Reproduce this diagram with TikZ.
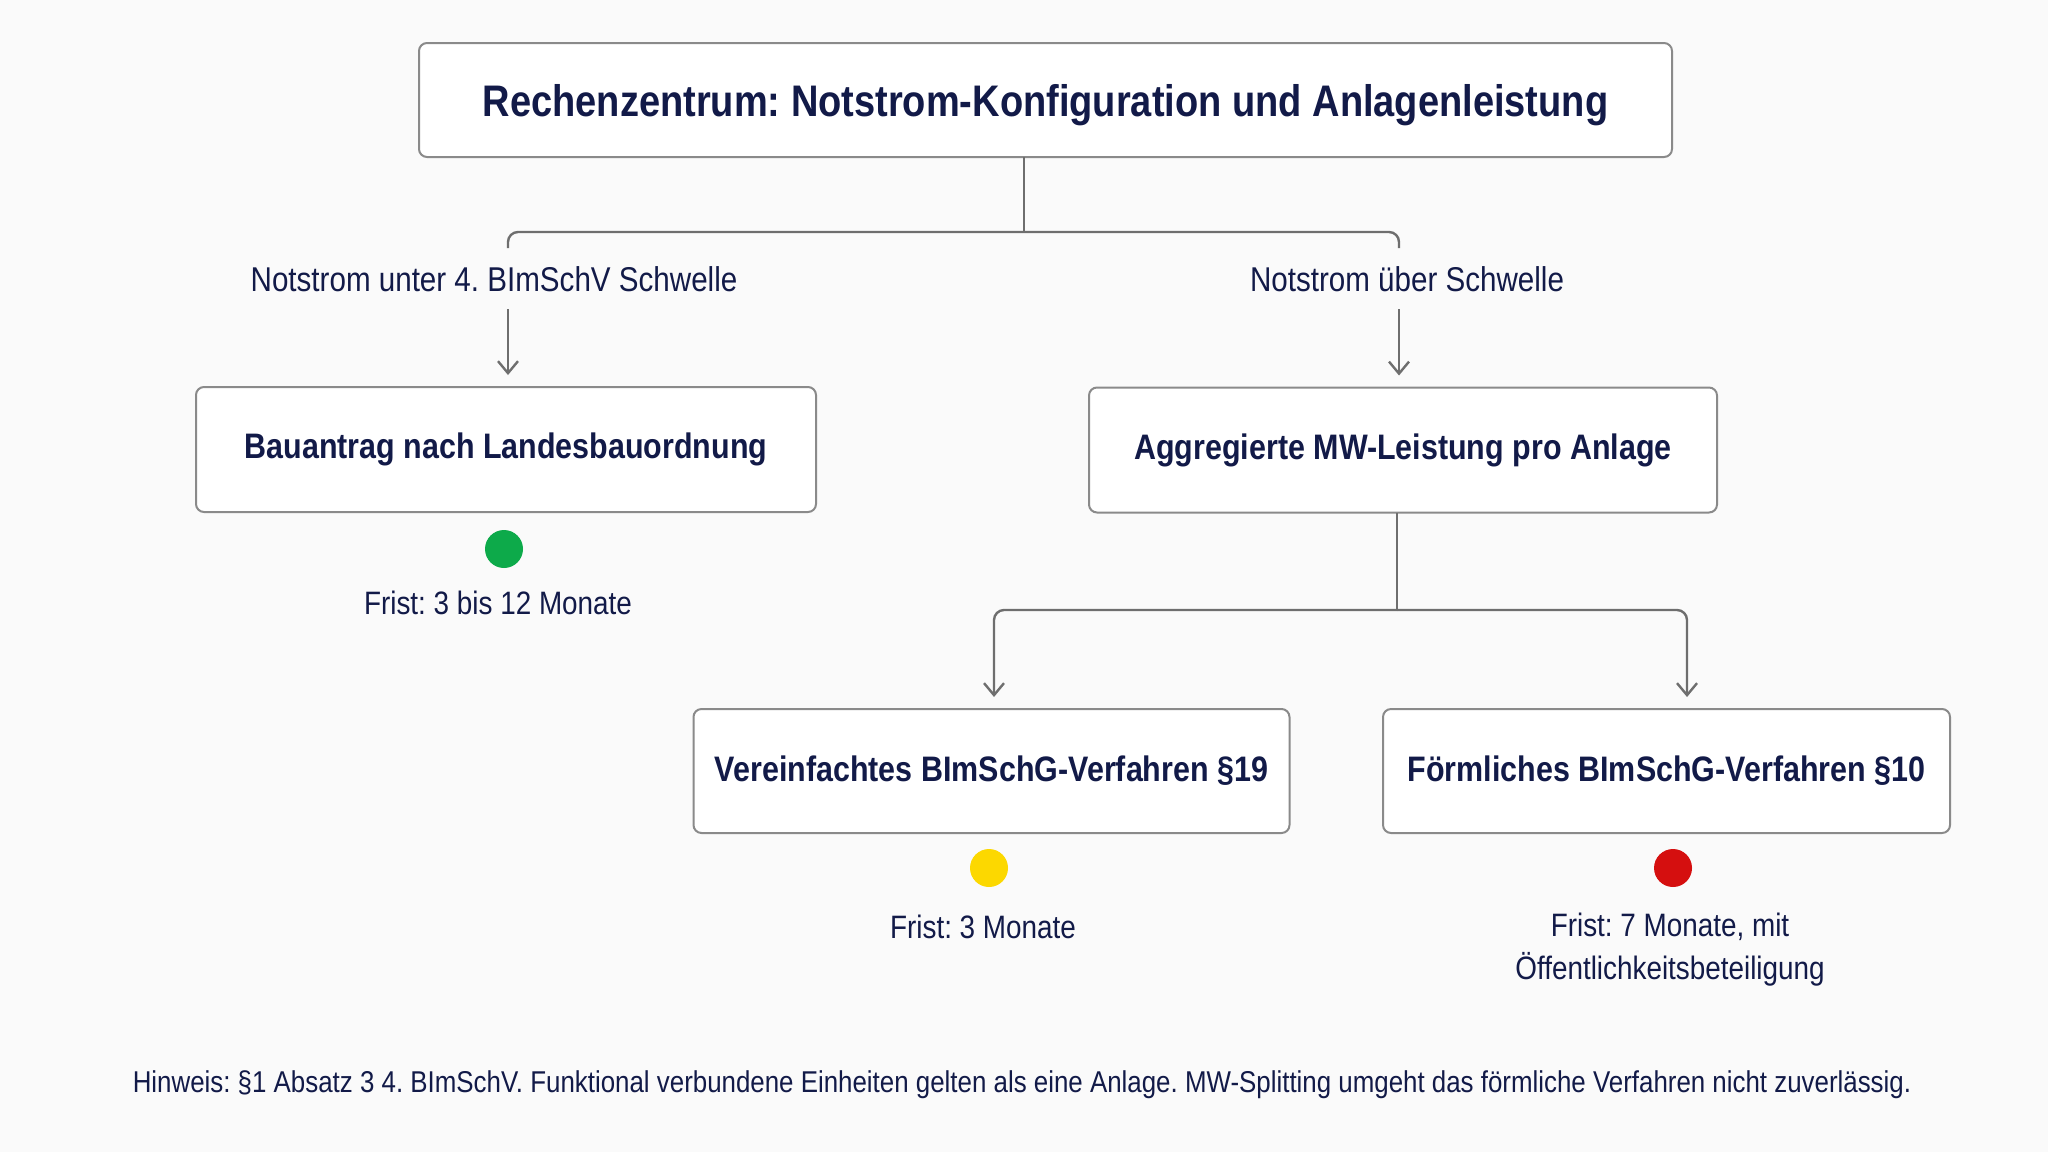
\documentclass[tikz,border=0pt]{standalone}
\usepackage{fontspec}
\setmainfont{Liberation Sans}[FakeStretch=0.86]
\usetikzlibrary{arrows.meta}
\frenchspacing
\definecolor{bgc}{HTML}{FAFAFA}
\definecolor{ink}{HTML}{121A48}
\definecolor{frame}{HTML}{8A8A8A}
\definecolor{wire}{HTML}{6E6E6E}
\definecolor{dotgreen}{HTML}{0DAA4A}
\definecolor{dotyellow}{HTML}{FCD800}
\definecolor{dotred}{HTML}{D50F0F}
\tikzset{
  box/.style={draw=frame, line width=1pt, rounded corners=4pt, fill=white, inner sep=0pt, text=ink, font=\bfseries\fontsize{17.7}{22}\selectfont},
  titlebox/.style={box, text depth=0pt, font=\bfseries\fontsize{22.1}{26}\selectfont},
  branchlabel/.style={text=ink, inner sep=0pt, font=\fontsize{17.2}{20}\selectfont},
  fristlabel/.style={text=ink, inner sep=0pt, align=center, font=\fontsize{16.2}{21.5}\selectfont},
  notelabel/.style={text=ink, inner sep=0pt, font=\fontsize{15.05}{18}\selectfont},
  wireline/.style={draw=wire, line width=1.2pt},
  arr/.style={wireline, shorten >=5.5pt, -{Straight Barb[length=6pt,width=10pt,line width=1.2pt]}},
  statusdot/.style={circle, minimum size=19pt, inner sep=0pt, draw=none},
}
\begin{document}
\begin{tikzpicture}[x=0.5pt,y=-0.5pt]
\fill[bgc] (0,0) rectangle (2048,1152);
\useasboundingbox (0,0) rectangle (2048,1152);

\node[titlebox, minimum width=626.5pt, minimum height=57pt] (title) at (1045.5,100) {Rechenzentrum: Notstrom-Konfiguration und Anlagenleistung};

\node[box, minimum width=310pt, minimum height=62.5pt] (bau) at (506,449.5) {Bauantrag nach Landesbauordnung};
\node[box, minimum width=314pt, minimum height=62.5pt] (agg) at (1403,450) {Aggregierte MW-Leistung pro Anlage};
\node[box, minimum width=298pt, minimum height=62pt] (ver) at (991.5,771) {Vereinfachtes BImSchG-Verfahren §19};
\node[box, minimum width=283.5pt, minimum height=62pt] (foe) at (1666.5,771) {Förmliches BImSchG-Verfahren §10};

\node[branchlabel] (lbl1) at (494,279) {Notstrom unter 4. BImSchV Schwelle};
\node[branchlabel] (lbl2) at (1407,279) {Notstrom über Schwelle};

% top split
\coordinate (stem) at (1024,157);
\coordinate (split) at (1024,232);
\coordinate (lEnd) at (508,248);
\coordinate (rEnd) at (1399,248);
\coordinate (lStart) at (508,309);
\coordinate (rStart) at (1399,309);
\draw[wireline] (stem) -- (split);
\draw[wireline, rounded corners=5pt] (lEnd) |- (split) -| (rEnd);
\draw[arr] (lStart) -- (lStart |- bau.north);
\draw[arr] (rStart) -- (rStart |- agg.north);

% lower split
\coordinate (stem2) at (1397,513);
\coordinate (split2) at (1397,610);
\coordinate (lTop2) at (994,610);
\coordinate (rTop2) at (1687,610);
\draw[wireline] (stem2) -- (split2);
\draw[arr, rounded corners=5pt] (split2) -| (ver.north -| lTop2);
\draw[arr, rounded corners=5pt] (split2) -| (foe.north -| rTop2);

% status dots
\node[statusdot, fill=dotgreen] (dg) at (504,549) {};
\node[statusdot, fill=dotyellow] (dy) at (989,868) {};
\node[statusdot, fill=dotred] (dr) at (1673,868) {};

\node[fristlabel] (f1) at (498,603) {Frist: 3 bis 12 Monate};
\node[fristlabel] (f2) at (983,927) {Frist: 3 Monate};
\node[fristlabel] (f3) at (1670,950) {Frist: 7 Monate, mit\\Öffentlichkeitsbeteiligung};

\node[notelabel] (note) at (1022,1085) {Hinweis: §1 Absatz 3 4. BImSchV. Funktional verbundene Einheiten gelten als eine Anlage. MW-Splitting umgeht das förmliche Verfahren nicht zuverlässig.};
\end{tikzpicture}
\end{document}
